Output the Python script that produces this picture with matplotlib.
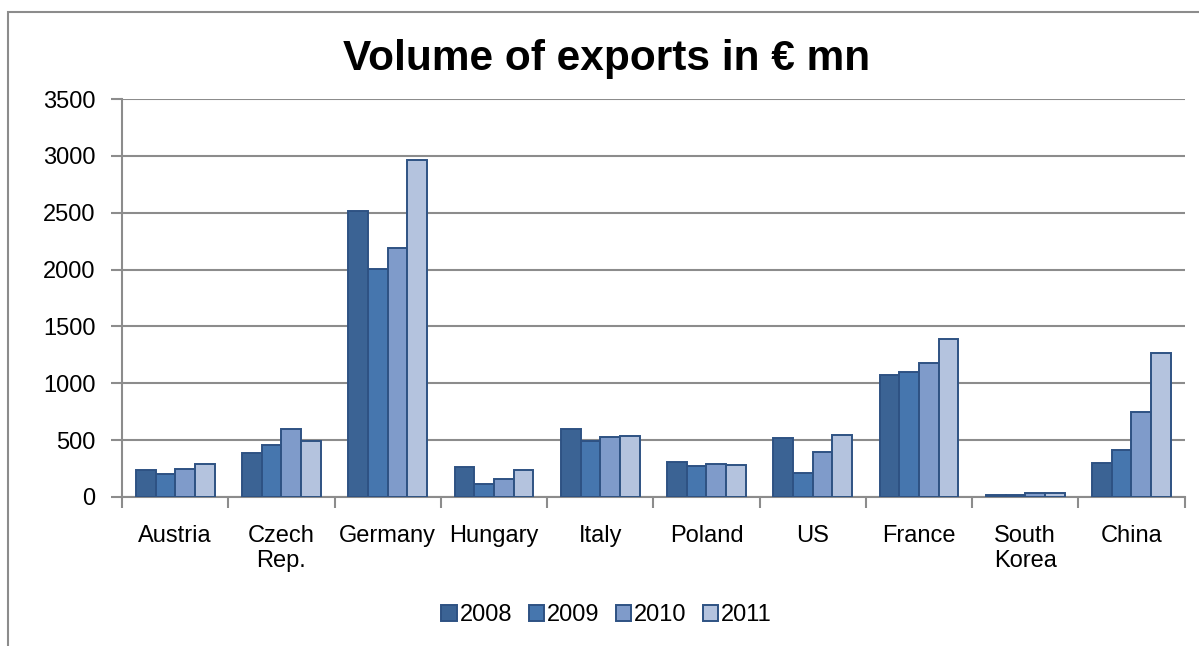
import matplotlib.pyplot as plt
import numpy as np
from matplotlib.patches import Rectangle

plt.rcParams['font.family'] = ['Liberation Sans', 'DejaVu Sans']

countries = ['Austria', 'Czech\nRep.', 'Germany', 'Hungary', 'Italy', 'Poland',
             'US', 'France', 'South\nKorea', 'China']
years = ['2008', '2009', '2010', '2011']
v2008 = [237, 384, 2515, 267, 595, 311, 519, 1076, 18, 302]
v2009 = [200, 454, 2005, 111, 492, 270, 214, 1102, 18, 410]
v2010 = [243, 595, 2187, 155, 525, 290, 393, 1181, 32, 750]
v2011 = [287, 492, 2965, 234, 540, 279, 542, 1392, 38, 1266]

colors = ['#3B6394', '#4676AE', '#7F9BCA', '#B4C3DE']
edge = '#2E5283'
grey = '#8C8C8C'

fig = plt.figure(figsize=(11.99, 6.46), dpi=100)
fig.patches.append(Rectangle((8 / 1199, -0.1), 1.2, 1 - 12 / 646 + 0.1,
                             transform=fig.transFigure, fill=False,
                             edgecolor=grey, linewidth=1.5))
ax = fig.add_axes([0.1018, 0.2307, 0.8862, 0.616])

x = np.arange(len(countries))
w = 0.185
for i, vals in enumerate([v2008, v2009, v2010, v2011]):
    ax.bar(x + (i - 1.5) * w, vals, w, color=colors[i], edgecolor=edge,
           linewidth=1.4, label=years[i], zorder=3)

ax.set_xlim(-0.5, len(countries) - 0.5)
ax.set_ylim(0, 3500)
ax.set_yticks(np.arange(0, 3501, 500))
ax.grid(axis='y', color=grey, linewidth=1.5, zorder=0)

ax.set_xticks(x)
ax.set_xticklabels(countries, fontsize=17, linespacing=1.2)
ax.set_xticks(np.arange(-0.5, len(countries)), minor=True)
ax.tick_params(axis='x', which='major', length=0, pad=20)
ax.tick_params(axis='x', which='minor', length=8, width=1.5, color=grey)
ax.tick_params(axis='y', length=8, width=1.5, color=grey, labelsize=17, pad=11)

for s in ['top', 'right']:
    ax.spines[s].set_visible(False)
for s in ['left', 'bottom']:
    ax.spines[s].set_color(grey)
    ax.spines[s].set_linewidth(1.5)

fig.text(0.506, 0.908, 'Volume of exports in € mn', ha='center', va='center',
         fontsize=30.5, fontweight='bold')

fig.legend(loc='center', bbox_to_anchor=(0.506, 0.048), ncol=4, frameon=False,
           fontsize=17, handlelength=0.65, handleheight=0.65,
           handletextpad=0.12, columnspacing=0.7)

fig.savefig('out.png', dpi=100)
